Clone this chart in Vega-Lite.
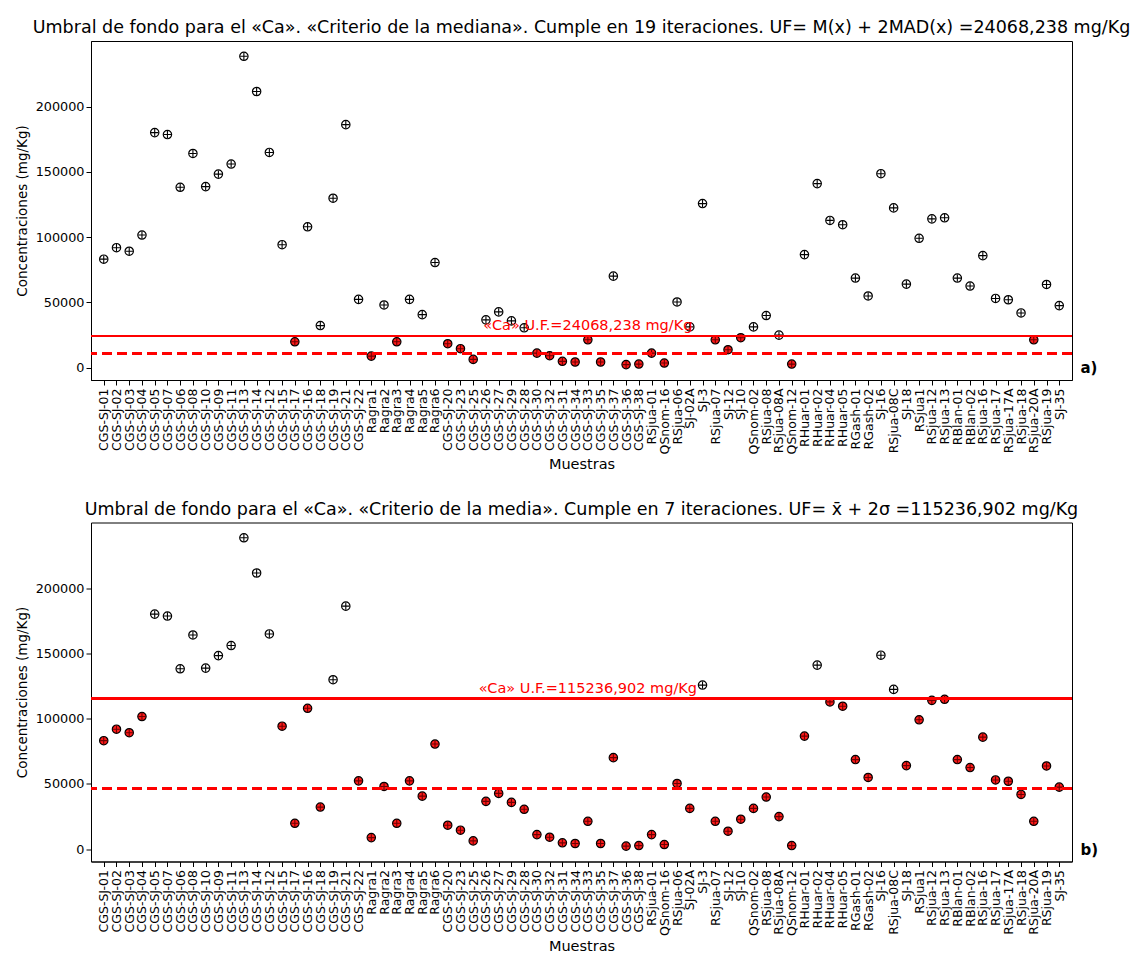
{
  "$schema": "https://vega.github.io/schema/vega-lite/v6.json",
  "background": "white",
  "padding": {"left": 14, "top": 18, "right": 6, "bottom": 4},
  "config": {
    "font": "DejaVu Sans",
    "view": {"stroke": "black", "strokeWidth": 1},
    "axis": {
      "domainColor": "black", "tickColor": "black", "tickSize": 5,
      "labelColor": "black", "titleColor": "black", "labelFont": "DejaVu Sans",
      "titleFont": "DejaVu Sans", "titleFontWeight": "normal", "grid": false
    },
    "title": {"font": "DejaVu Sans", "fontWeight": "normal", "fontSize": 17.5, "color": "black", "anchor": "middle", "offset": 4.5}
  },
  "datasets": {
    "ca": [
      {"m": "CGS-SJ-01", "ca": 83100}, {"m": "CGS-SJ-02", "ca": 91900}, {"m": "CGS-SJ-03", "ca": 89200},
      {"m": "CGS-SJ-04", "ca": 101600}, {"m": "CGS-SJ-05", "ca": 180100}, {"m": "CGS-SJ-07", "ca": 178600},
      {"m": "CGS-SJ-06", "ca": 138200}, {"m": "CGS-SJ-08", "ca": 164100}, {"m": "CGS-SJ-10", "ca": 138700},
      {"m": "CGS-SJ-09", "ca": 148300}, {"m": "CGS-SJ-11", "ca": 156000}, {"m": "CGS-SJ-13", "ca": 238600},
      {"m": "CGS-SJ-14", "ca": 211600}, {"m": "CGS-SJ-12", "ca": 164900}, {"m": "CGS-SJ-15", "ca": 94200},
      {"m": "CGS-SJ-17", "ca": 19800}, {"m": "CGS-SJ-16", "ca": 107900}, {"m": "CGS-SJ-18", "ca": 32200},
      {"m": "CGS-SJ-19", "ca": 129800}, {"m": "CGS-SJ-21", "ca": 186200}, {"m": "CGS-SJ-22", "ca": 52300},
      {"m": "Ragra1", "ca": 8800}, {"m": "Ragra2", "ca": 48000}, {"m": "Ragra3", "ca": 19800},
      {"m": "Ragra4", "ca": 52300}, {"m": "Ragra5", "ca": 40600}, {"m": "Ragra6", "ca": 80500},
      {"m": "CGS-SJ-20", "ca": 18300}, {"m": "CGS-SJ-23", "ca": 14500}, {"m": "CGS-SJ-25", "ca": 6300},
      {"m": "CGS-SJ-26", "ca": 36600}, {"m": "CGS-SJ-27", "ca": 42700}, {"m": "CGS-SJ-29", "ca": 35800},
      {"m": "CGS-SJ-28", "ca": 30500}, {"m": "CGS-SJ-30", "ca": 11100}, {"m": "CGS-SJ-32", "ca": 9100},
      {"m": "CGS-SJ-31", "ca": 4800}, {"m": "CGS-SJ-34", "ca": 4300}, {"m": "CGS-SJ-33", "ca": 21300},
      {"m": "CGS-SJ-35", "ca": 4300}, {"m": "CGS-SJ-37", "ca": 70100}, {"m": "CGS-SJ-36", "ca": 2300},
      {"m": "CGS-SJ-38", "ca": 2700}, {"m": "RSjua-01", "ca": 11100}, {"m": "QSnom-16", "ca": 3500},
      {"m": "RSjua-06", "ca": 50300}, {"m": "SJ-02A", "ca": 31200}, {"m": "SJ-3", "ca": 125700},
      {"m": "RSjua-07", "ca": 21300}, {"m": "SJ-12", "ca": 13700}, {"m": "SJ-10", "ca": 22900},
      {"m": "QSnom-02", "ca": 31200}, {"m": "RSjua-08", "ca": 39900}, {"m": "RSjua-08A", "ca": 24900},
      {"m": "QSnom-12", "ca": 2700}, {"m": "RHuar-01", "ca": 86600}, {"m": "RHuar-02", "ca": 141000},
      {"m": "RHuar-04", "ca": 112800}, {"m": "RHuar-05", "ca": 109500}, {"m": "RGash-01", "ca": 68600},
      {"m": "RGash-02", "ca": 54900}, {"m": "SJ-16", "ca": 148600}, {"m": "RSjua-08C", "ca": 122400},
      {"m": "SJ-18", "ca": 64000}, {"m": "RSjua1", "ca": 99100}, {"m": "RSjua-12", "ca": 114000},
      {"m": "RSjua-13", "ca": 114800}, {"m": "RBlan-01", "ca": 68600}, {"m": "RBlan-02", "ca": 62500},
      {"m": "RSjua-16", "ca": 85800}, {"m": "RSjua-17", "ca": 53000}, {"m": "RSjua-17A", "ca": 52000},
      {"m": "RSjua-18", "ca": 41900}, {"m": "RSjua-20A", "ca": 21300}, {"m": "RSjua-19", "ca": 63700},
      {"m": "SJ-35", "ca": 47500}
    ]
  },
  "spacing": 27.5,
  "vconcat": [
    {
      "title": "Umbral de fondo para el «Ca». «Criterio de la mediana». Cumple en 19 iteraciones. UF= M(x) + 2MAD(x) =24068,238 mg/Kg",
      "width": 981,
      "height": 339,
      "data": {"name": "ca"},
      "resolve": {"axis": {"y": "independent"}},
      "layer": [
        {
          "mark": {"type": "point", "shape": "circle", "filled": true, "stroke": "black", "strokeWidth": 1.2, "size": 70, "opacity": 1},
          "encoding": {
            "x": {
              "field": "m", "type": "nominal", "sort": null,
              "scale": {"type": "point", "padding": 1},
              "axis": {"title": "Muestras", "labelAngle": -90, "labelFontSize": 12.5, "titleFontSize": 14.5, "labelPadding": 3, "titlePadding": 4}
            },
            "y": {
              "field": "ca", "type": "quantitative",
              "scale": {"domain": [-9500, 250300], "nice": false, "zero": false},
              "axis": {"title": "Concentraciones (mg/Kg)", "values": [0, 50000, 100000, 150000, 200000], "format": "d", "labelFontSize": 12.8, "titleFontSize": 13.5, "titlePadding": 6}
            },
            "fill": {"condition": {"test": "datum.ca < 24068.238", "value": "#ff1a1a"}, "value": "white"}
          }
        },
        {
          "mark": {"type": "point", "shape": "M-1,0H1M0,-1V1", "filled": false, "strokeWidth": 1.1, "size": 55, "opacity": 1},
          "encoding": {
            "x": {"field": "m", "type": "nominal", "sort": null},
            "y": {"field": "ca", "type": "quantitative", "axis": null},
            "stroke": {"condition": {"test": "datum.ca < 24068.238", "value": "#700000"}, "value": "black"}
          }
        },
        {
          "mark": {"type": "rule", "color": "red", "strokeWidth": 1.8},
          "encoding": {"y": {"datum": 24068.238, "type": "quantitative", "axis": null}}
        },
        {
          "mark": {"type": "rule", "color": "red", "strokeWidth": 2.6, "strokeDash": [10, 5]},
          "encoding": {"y": {"datum": 10900, "type": "quantitative", "axis": null}}
        },
        {
          "transform": [{"filter": "datum.m == 'CGS-SJ-33'"}],
          "mark": {"type": "text", "color": "red", "fontSize": 14.5, "baseline": "alphabetic", "dy": -6},
          "encoding": {
            "x": {"field": "m", "type": "nominal", "sort": null},
            "y": {"datum": 24068.238, "type": "quantitative", "axis": null},
            "text": {"value": "«Ca» U.F.=24068,238 mg/Kg"}
          }
        },
        {
          "mark": {"type": "rule", "opacity": 0},
          "encoding": {
            "y": {
              "datum": 0, "type": "quantitative",
              "axis": {"orient": "right", "values": [0], "labelExpr": "'a)'", "title": null, "domain": false, "ticks": false, "labelFontSize": 15, "labelFontWeight": "bold", "labelPadding": 8}
            }
          }
        }
      ]
    },
    {
      "title": "Umbral de fondo para el «Ca». «Criterio de la media». Cumple en 7 iteraciones. UF= x̄ + 2σ =115236,902 mg/Kg",
      "width": 981,
      "height": 339,
      "data": {"name": "ca"},
      "resolve": {"axis": {"y": "independent"}},
      "layer": [
        {
          "mark": {"type": "point", "shape": "circle", "filled": true, "stroke": "black", "strokeWidth": 1.2, "size": 70, "opacity": 1},
          "encoding": {
            "x": {
              "field": "m", "type": "nominal", "sort": null,
              "scale": {"type": "point", "padding": 1},
              "axis": {"title": "Muestras", "labelAngle": -90, "labelFontSize": 12.5, "titleFontSize": 14.5, "labelPadding": 3, "titlePadding": 4}
            },
            "y": {
              "field": "ca", "type": "quantitative",
              "scale": {"domain": [-9500, 250300], "nice": false, "zero": false},
              "axis": {"title": "Concentraciones (mg/Kg)", "values": [0, 50000, 100000, 150000, 200000], "format": "d", "labelFontSize": 12.8, "titleFontSize": 13.5, "titlePadding": 6}
            },
            "fill": {"condition": {"test": "datum.ca < 115236.902", "value": "#ff1a1a"}, "value": "white"}
          }
        },
        {
          "mark": {"type": "point", "shape": "M-1,0H1M0,-1V1", "filled": false, "strokeWidth": 1.1, "size": 55, "opacity": 1},
          "encoding": {
            "x": {"field": "m", "type": "nominal", "sort": null},
            "y": {"field": "ca", "type": "quantitative", "axis": null},
            "stroke": {"condition": {"test": "datum.ca < 115236.902", "value": "#700000"}, "value": "black"}
          }
        },
        {
          "mark": {"type": "rule", "color": "red", "strokeWidth": 1.8},
          "encoding": {"y": {"datum": 115236.902, "type": "quantitative", "axis": null}}
        },
        {
          "mark": {"type": "rule", "color": "red", "strokeWidth": 2.6, "strokeDash": [10, 5]},
          "encoding": {"y": {"datum": 46500, "type": "quantitative", "axis": null}}
        },
        {
          "transform": [{"filter": "datum.m == 'CGS-SJ-33'"}],
          "mark": {"type": "text", "color": "red", "fontSize": 14.5, "baseline": "alphabetic", "dy": -6},
          "encoding": {
            "x": {"field": "m", "type": "nominal", "sort": null},
            "y": {"datum": 115236.902, "type": "quantitative", "axis": null},
            "text": {"value": "«Ca» U.F.=115236,902 mg/Kg"}
          }
        },
        {
          "mark": {"type": "rule", "opacity": 0},
          "encoding": {
            "y": {
              "datum": 0, "type": "quantitative",
              "axis": {"orient": "right", "values": [0], "labelExpr": "'b)'", "title": null, "domain": false, "ticks": false, "labelFontSize": 15, "labelFontWeight": "bold", "labelPadding": 8}
            }
          }
        }
      ]
    }
  ]
}
